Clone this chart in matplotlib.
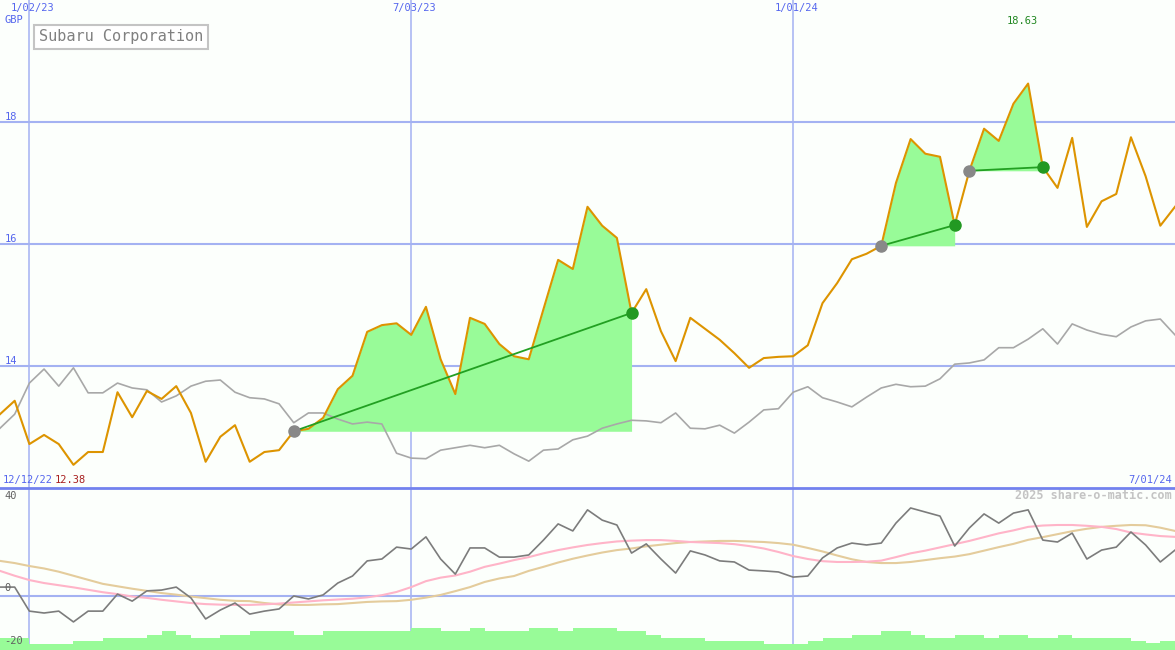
import numpy as np
import pandas as pd
import matplotlib
matplotlib.use('Agg')
import matplotlib.pyplot as plt
import matplotlib.dates as mdates

# weekly closes, 19 Dec 2022 .. 1 Jul 2024
dates = pd.date_range('2022-12-19', periods=81, freq='7D')

price = np.array([
    13.21, 13.43, 12.72, 12.87, 12.72, 12.38, 12.59, 12.59, 13.57, 13.16,
    13.59, 13.46, 13.67, 13.23, 12.43, 12.84, 13.03, 12.43, 12.59, 12.62,
    12.93, 12.97, 13.15, 13.62, 13.84, 14.56, 14.67, 14.70, 14.51, 14.97,
    14.11, 13.54, 14.79, 14.69, 14.36, 14.16, 14.11, 14.93, 15.74, 15.59,
    16.61, 16.30, 16.10, 14.87, 15.26, 14.57, 14.08, 14.79, 14.61, 14.43,
    14.21, 13.97, 14.13, 14.15, 14.16, 14.34, 15.03, 15.36, 15.75, 15.84,
    15.97, 17.00, 17.72, 17.48, 17.43, 16.31, 17.20, 17.89, 17.69, 18.30,
    18.63, 17.26, 16.92, 17.74, 16.28, 16.70, 16.82, 17.75, 17.11, 16.30,
    16.61])

# relative / index line (grey)
rel = np.array([
    12.98, 13.21, 13.72, 13.95, 13.67, 13.97, 13.56, 13.56, 13.72, 13.64,
    13.61, 13.41, 13.51, 13.67, 13.75, 13.77, 13.57, 13.48, 13.46, 13.38,
    13.07, 13.23, 13.23, 13.13, 13.05, 13.08, 13.05, 12.57, 12.49, 12.48,
    12.62, 12.66, 12.70, 12.66, 12.70, 12.56, 12.44, 12.62, 12.64, 12.79,
    12.85, 12.98, 13.05, 13.11, 13.10, 13.07, 13.23, 12.98, 12.97, 13.03,
    12.90, 13.08, 13.28, 13.30, 13.57, 13.66, 13.48, 13.41, 13.33, 13.49,
    13.64, 13.70, 13.66, 13.67, 13.79, 14.03, 14.05, 14.10, 14.30, 14.30,
    14.44, 14.61, 14.36, 14.69, 14.59, 14.52, 14.48, 14.64, 14.74, 14.77,
    14.51])

# trades: entry / exit week index
entry = [20, 60, 66]
exit_ = [43, 65, 71]

# lower panel
osc = np.array([
    3.3, 3.3, -5.6, -6.3, -5.6, -9.6, -5.6, -5.6, 0.7, -1.9,
    1.9, 2.2, 3.3, -0.7, -8.5, -5.2, -2.6, -6.7, -5.6, -4.8,
    0.0, -1.1, 0.4, 4.8, 7.4, 13.0, 13.7, 18.1, 17.4, 21.9,
    13.7, 8.1, 17.8, 17.8, 14.4, 14.4, 15.2, 20.7, 26.7, 24.1,
    31.9, 28.1, 26.3, 15.9, 19.3, 13.7, 8.5, 16.7, 15.2, 13.0,
    12.6, 9.6, 9.3, 8.9, 7.0, 7.4, 14.1, 17.8, 19.6, 18.9,
    19.6, 27.0, 32.6, 31.1, 29.6, 18.5, 25.2, 30.4, 27.0, 30.7,
    31.9, 20.7, 20.0, 23.3, 13.7, 17.0, 18.1, 23.7, 18.9, 12.6,
    17.0])

ma_fast = np.array([
    9.3, 7.5, 5.9, 4.8, 4.0, 3.2, 2.3, 1.4, 0.7, -0.2,
    -0.7, -1.4, -2.0, -2.6, -3.0, -3.2, -3.3, -3.3, -3.1, -2.8,
    -2.4, -2.0, -1.6, -1.3, -1.0, -0.5, 0.3, 1.5, 3.3, 5.5,
    6.8, 7.6, 9.0, 10.8, 12.0, 13.3, 14.4, 15.8, 17.0, 18.0,
    18.9, 19.6, 20.2, 20.5, 20.7, 20.7, 20.4, 20.0, 19.8, 19.6,
    19.2, 18.5, 17.6, 16.3, 14.8, 13.7, 12.9, 12.6, 12.6, 12.7,
    13.1, 14.4, 15.8, 16.8, 18.0, 19.2, 20.4, 21.8, 23.2, 24.3,
    25.6, 26.1, 26.3, 26.3, 26.0, 25.6, 24.8, 23.5, 22.8, 22.2,
    21.9])

ma_slow = np.array([
    13.0, 12.2, 11.1, 10.2, 9.0, 7.5, 6.0, 4.5, 3.6, 2.7,
    1.9, 1.1, 0.5, -0.2, -0.8, -1.4, -1.8, -1.9, -2.6, -3.1,
    -3.3, -3.3, -3.1, -3.0, -2.6, -2.2, -2.0, -1.9, -1.4, -0.6,
    0.4, 1.8, 3.3, 5.2, 6.5, 7.4, 9.3, 10.8, 12.4, 13.8,
    15.0, 16.1, 17.0, 17.6, 18.4, 19.0, 19.6, 20.0, 20.2, 20.4,
    20.4, 20.2, 20.0, 19.6, 19.0, 17.8, 16.5, 15.0, 13.6, 12.6,
    12.2, 12.2, 12.6, 13.3, 14.0, 14.6, 15.5, 16.8, 18.1, 19.3,
    20.8, 21.8, 22.9, 24.0, 24.9, 25.6, 26.0, 26.3, 26.2, 25.3,
    24.1])

vol = np.array([
    4.4, 4.4, 2.2, 2.2, 2.2, 3.3, 3.3, 4.4, 4.4, 4.4,
    5.6, 7.0, 5.6, 4.4, 4.4, 5.6, 5.6, 7.0, 7.0, 7.0,
    5.6, 5.6, 7.0, 7.0, 7.0, 7.0, 7.0, 7.0, 8.1, 8.1,
    7.0, 7.0, 8.1, 7.0, 7.0, 7.0, 8.1, 8.1, 7.0, 8.1,
    8.1, 8.1, 7.0, 7.0, 5.6, 4.4, 4.4, 4.4, 3.3, 3.3,
    3.3, 3.3, 2.2, 2.2, 2.2, 3.3, 4.4, 4.4, 5.6, 5.6,
    7.0, 7.0, 5.6, 4.4, 4.4, 5.6, 5.6, 4.4, 5.6, 5.6,
    4.4, 4.4, 5.6, 4.4, 4.4, 4.4, 4.4, 3.3, 2.6, 3.3])

grid_idx = [2, 28, 54]
start_label = '12/12/22'
end_label = '7/01/24'
title = 'Subaru Corporation'

BG = '#fcfffc'
GRID = '#a4b2f2'
BLUE = '#5566ee'
MONO = 'DejaVu Sans Mono'

x = mdates.date2num(dates)

fig = plt.figure(figsize=(11.75, 6.5), dpi=100, facecolor=BG)
ax = fig.add_axes([0, 162 / 650, 1, 488 / 650])
ax2 = fig.add_axes([0, 0, 1, 162 / 650])
for a in (ax, ax2):
    a.set_facecolor(BG)
    a.set_xlim(x[0], x[-1])
    a.set_xticks([])
    a.set_yticks([])
    for s in a.spines.values():
        s.set_visible(False)
    for i in grid_idx:
        a.axvline(x[i], color=GRID, lw=1.1, zorder=0)
ax.set_ylim(12, 20)
ax2.set_ylim(-20, 40)

for v in [14, 16, 18]:
    ax.axhline(v, color=GRID, lw=1.5, zorder=0)
    ax.text(x[0] + 2.2, v + 0.09, str(v), color=BLUE, fontsize=7.5,
            family=MONO, va='center', ha='left')
ax2.axhline(40, color='#7282ee', lw=2, zorder=6, clip_on=False)
ax2.axhline(0, color=GRID, lw=1.5, zorder=0)

# price panel
ax.plot(x, rel, color='#a8a8a8', lw=1.2, zorder=2)
for e, q in zip(entry, exit_):
    seg = slice(e, q + 1)
    ax.fill_between(x[seg], price[seg], price[e], where=price[seg] >= price[e],
                    interpolate=True, color='#98fb98', lw=0, zorder=1)
ax.plot(x, price, color='#dd9400', lw=1.5, zorder=3)
for e, q in zip(entry, exit_):
    ax.plot([x[e], x[q]], [price[e], price[q]], color='#22a022', lw=1.3, zorder=4)
ax.plot(x[entry], price[entry], 'o', color='#888888', ms=8, zorder=5)
ax.plot(x[exit_], price[exit_], 'o', color='#229922', ms=8, zorder=5)

for i in grid_idx:
    d = dates[i]
    ax.text(x[i] + 1.5, 19.87, f'{d.month}/{d:%d/%y}', color=BLUE, fontsize=7.5,
            family=MONO, ha='center', va='center')
ax.text(x[0] + 2.2, 19.67, 'GBP', color=BLUE, fontsize=7.5, family=MONO,
        ha='left', va='center')
hi = price.argmax()
ax.annotate(f'{price[hi]:.2f}', (x[hi], 19.66), xytext=(-4, 0),
            textcoords='offset points', color='#228822', fontsize=7.5,
            family=MONO, ha='center', va='center')
ax.text(x[0] + 1.2, 12.13, start_label, color=BLUE, fontsize=7.5, family=MONO,
        ha='left', va='center')
ax.text(x[0] + 26, 12.13, f'{price.min():.2f}', color='#a82020', fontsize=7.5,
        family=MONO, ha='left', va='center')
ax.text(x[-1] - 1.2, 12.13, end_label, color=BLUE, fontsize=7.5, family=MONO,
        ha='right', va='center')
ax.text(0.033, 0.925, title, transform=ax.transAxes, color='#808080',
        fontsize=11, family=MONO, ha='left', va='center',
        bbox=dict(boxstyle='square,pad=0.3', fc='white', ec='#c4c4c4', lw=1.5))

# lower panel
ax2.bar(x[:-1], vol, width=7, bottom=-20, align='edge', color='#98fb98',
        lw=0, zorder=3)
ax2.plot(x, ma_slow, color='#e4cc9c', lw=1.5, zorder=2)
ax2.plot(x, ma_fast, color='#ffb4c8', lw=1.5, zorder=2)
ax2.plot(x, osc, color='#7c7c7c', lw=1.2, zorder=2)
for v, yy in [(40, 37.0), (0, 2.9), (-20, -16.7)]:
    ax2.text(x[0] + 2.2, yy, str(v), color='#606060', fontsize=7.5,
             family=MONO, ha='left', va='center', zorder=5)
ax2.text(0.997, 0.955, '2025 share-o-matic.com', transform=ax2.transAxes,
         color='#c4c4c4', fontsize=8.5, family=MONO, weight='bold',
         ha='right', va='center')

fig.savefig('out.png', dpi=100, facecolor=BG)
